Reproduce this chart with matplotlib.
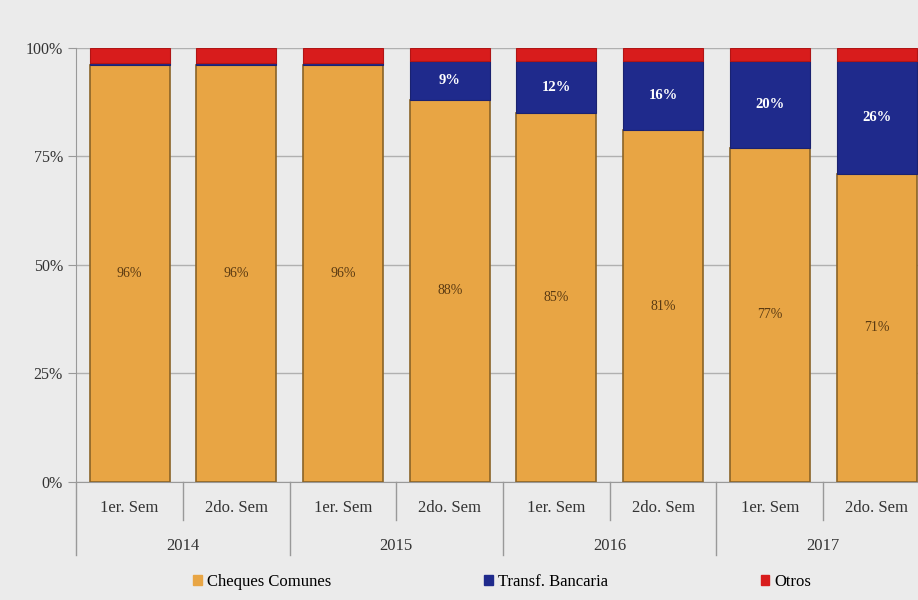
import matplotlib.pyplot as plt
from matplotlib.patches import Patch
from matplotlib.transforms import blended_transform_factory

# Participación por medio de pago, por semestre
anios = ["2014", "2015", "2016", "2017"]
semestres = ["1er. Sem", "2do. Sem"] * 4
cheques = [96, 96, 96, 88, 85, 81, 77, 71]
transf = [0.5, 0.5, 0.5, 9, 12, 16, 20, 26]
otros = [3.5, 3.5, 3.5, 3, 3, 3, 3, 3]

c_cheq = "#e8a544"
c_transf = "#1f2a8c"
c_otros = "#d81c1c"
bg = "#ebebeb"
serif = ["Liberation Serif", "DejaVu Serif"]

plt.rcParams["font.family"] = serif

fig = plt.figure(figsize=(9.18, 6), dpi=100, facecolor=bg)
ax = fig.add_axes([0.083, 0.197, 0.93, 0.723], facecolor=bg)

x = list(range(len(cheques)))
w = 0.75
base2 = cheques
base3 = [a + b for a, b in zip(cheques, transf)]
ax.bar(x, cheques, w, color=c_cheq, edgecolor="#8a6428", linewidth=1.2, zorder=3)
ax.bar(x, transf, w, bottom=base2, color=c_transf, edgecolor="#1a2270", linewidth=0.8, zorder=3)
ax.bar(x, otros, w, bottom=base3, color=c_otros, edgecolor="#b01515", linewidth=0.8, zorder=3)

for i in x:
    ax.text(i, cheques[i] / 2, f"{cheques[i]}%", ha="center", va="center",
            fontsize=10, color="#5a3a12", zorder=4)
    if transf[i] >= 5:
        ax.text(i, cheques[i] + transf[i] / 2, f"{transf[i]}%", ha="center", va="center",
                fontsize=10.5, color="white", fontweight="bold", zorder=4)

ax.set_xlim(-0.5, 7.5)
ax.set_ylim(0, 100)
ax.set_yticks([0, 25, 50, 75, 100])
ax.set_yticklabels(["0%", "25%", "50%", "75%", "100%"], fontsize=11.5, color="#333333")
ax.yaxis.grid(True, color="#b0b0b0", linewidth=1, zorder=0)
ax.set_xticks([])
ax.tick_params(axis="y", length=6, color="#999999")
for s in ["top", "right"]:
    ax.spines[s].set_visible(False)
for s in ["left", "bottom"]:
    ax.spines[s].set_color("#999999")

# Etiquetas de categorías en dos niveles
tr = blended_transform_factory(ax.transData, ax.transAxes)
for i, s in enumerate(semestres):
    ax.text(i, -0.06, s, transform=tr, ha="center", va="center", fontsize=12, color="#333333")
for j, a in enumerate(anios):
    ax.text(2 * j + 0.5, -0.147, a, transform=tr, ha="center", va="center", fontsize=12, color="#333333")
for k in range(9):
    xpos = k - 0.5
    y_end = -0.168 if k % 2 == 0 else -0.088
    ax.plot([xpos, xpos], [0, y_end], transform=tr, color="#999999", linewidth=1, clip_on=False)

handles = [Patch(color=c_cheq), Patch(color=c_transf), Patch(color=c_otros)]
fig.legend(handles, ["Cheques Comunes", "Transf. Bancaria", "Otros"], loc="center",
           bbox_to_anchor=(0.547, 0.03), ncol=3, frameon=False, fontsize=12,
           handlelength=0.5, handleheight=0.5, handletextpad=0.3, columnspacing=9.2)

fig.savefig("out.png", dpi=100, facecolor=bg)
